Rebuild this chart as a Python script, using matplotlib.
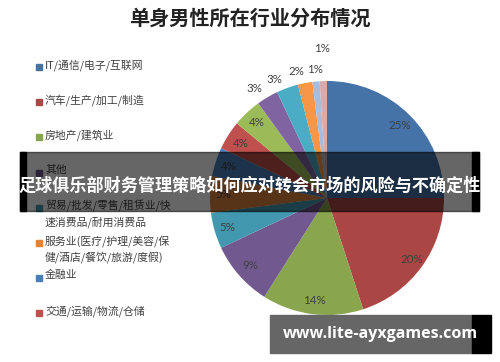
import matplotlib
matplotlib.use("Agg")
import matplotlib.pyplot as plt
from matplotlib.patches import Rectangle
import numpy as np

plt.rcParams['font.family'] = ['Noto Sans CJK SC', 'DejaVu Sans']

title = "单身男性所在行业分布情况"
legend_labels = ["IT/通信/电子/互联网", "汽车/生产/加工/制造", "房地产/建筑业", "其他",
                 "贸易/批发/零售/租赁业/快\n速消费品/耐用消费品",
                 "服务业(医疗/护理/美容/保\n健/酒店/餐饮/旅游/度假)",
                 "金融业", "交通/运输/物流/仓储"]
shares = [25, 20, 14, 9, 5, 5, 4, 4, 4, 3, 3, 2, 1, 1]
colors = ['#4572A7', '#AA4643', '#89A54E', '#71588F', '#4198AF', '#DB843D',
          '#4A7EBB', '#C0504D', '#9BBB59', '#8064A2', '#4BACC6', '#F79646',
          '#A9BCDB', '#DDA9A8']
# label distance from centre (fraction of radius) and angular nudge (deg)
label_r = [0.88, 0.89, 0.88, 0.87, 0.89, 0.89, 0.88, 0.87, 0.88,
           1.12, 1.11, 1.11, 1.10, 1.28]
label_nudge = [0] * 9 + [3, 4, 3, 0, 0]
overlay_text = "足球俱乐部财务管理策略如何应对转会市场的风险与不确定性"
site_text = "www.lite-ayxgames.com"

W, H = 500, 362
fig = plt.figure(figsize=(W / 100, H / 100), dpi=100)

# title
fig.text(250 / W, 1 - 18 / H, title, ha='center', va='center', fontsize=14.5,
         fontweight='bold', color='#222222')

# pie, centre (327,198) radius 117 px
R = 117
ax = fig.add_axes([(327 - R) / W, (H - 198 - R) / H, 2 * R / W, 2 * R / H])
wedges, texts = ax.pie(shares, colors=colors, startangle=90, counterclock=False,
                       labels=[f"{s}%" for s in shares], labeldistance=1.0,
                       textprops=dict(fontsize=8.3, color='#404040', family='Lato'),
                       wedgeprops=dict(linewidth=0))
for w, t, r, dn in zip(wedges, texts, label_r, label_nudge):
    ang = np.deg2rad((w.theta1 + w.theta2) / 2 + dn)
    t.set_position((r * np.cos(ang), r * np.sin(ang)))
    t.set_ha('center')
    t.set_va('center')
ax.set_xlim(-1, 1)
ax.set_ylim(-1, 1)
ax.axis('off')

# legend
leg_y = [66, 101, 136, 172, 207, 242, 277, 312]
leg_colors = colors[:8]
for lab, c, y in zip(legend_labels, leg_colors, leg_y):
    fig.patches.append(Rectangle((36 / W, 1 - (y + 4) / H), 6 / W, 6 / H,
                                 transform=fig.transFigure, color=c))
    fig.text(45 / W, 1 - (y - 7) / H, lab, ha='left', va='top', fontsize=7.8,
             color='#404040', linespacing=1.45)

# overlay band
fig.patches.append(Rectangle((20 / W, 1 - 211 / H), 459 / W, 59 / H,
                             transform=fig.transFigure, color='black', alpha=0.6, zorder=5))
fig.patches.append(Rectangle((20 / W, 1 - 211 / H), 6 / W, 59 / H,
                             transform=fig.transFigure, color='black', zorder=5))
fig.patches.append(Rectangle((472 / W, 1 - 211 / H), 7 / W, 59 / H,
                             transform=fig.transFigure, color='black', zorder=5))
fig.text(250 / W, 1 - 186 / H, overlay_text, ha='center', va='center',
         fontsize=12.3, fontweight='bold', color='white', zorder=6)

# watermark box
fig.patches.append(Rectangle((270 / W, 1 - 353 / H), 202 / W, 38 / H,
                             transform=fig.transFigure, color='#666666', zorder=5))
fig.patches.append(Rectangle((472 / W, 1 - 353 / H), 19 / W, 38 / H,
                             transform=fig.transFigure, color='black', zorder=5))
fig.text(380 / W, 1 - 334 / H, site_text, ha='center', va='center',
         fontsize=11.5, fontweight='bold', color='white', family='Open Sans', zorder=6)

fig.savefig("out.png", dpi=100)
